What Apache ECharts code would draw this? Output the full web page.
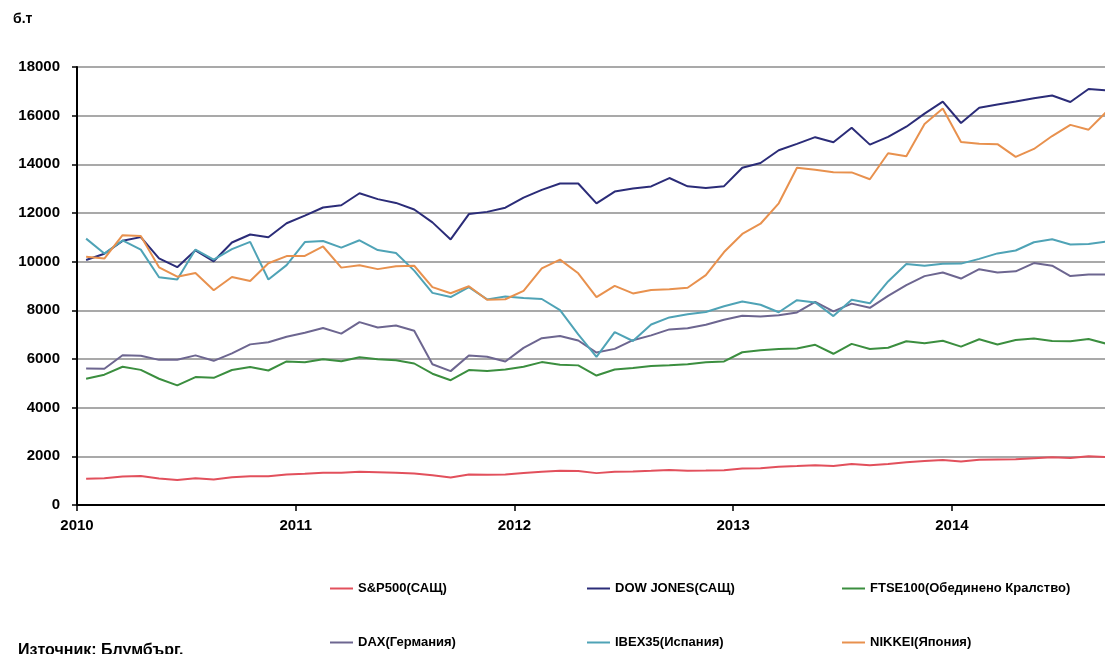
<!DOCTYPE html>
<html>
<head>
<meta charset="utf-8">
<script src="https://cdn.jsdelivr.net/npm/echarts@6/dist/echarts.min.js"></script>
<style>
html,body{margin:0;padding:0;background:#fff;}
#chart{width:1105px;height:654px;}
</style>
</head>
<body>
<div id="chart"></div>
<script>
// Monthly values, Jan 2010 .. Sep 2014
var startYear = 2010;
var seriesNames = ['S&P500(САЩ)', 'DOW JONES(САЩ)', 'FTSE100(Обединено Кралство)', 'DAX(Германия)', 'IBEX35(Испания)', 'NIKKEI(Япония)'];
var sp500 = [1074,1104,1169,1187,1089,1031,1102,1049,1141,1183,1181,1258,
             1286,1327,1326,1364,1345,1321,1292,1219,1131,1253,1247,1258,
             1312,1366,1408,1398,1310,1362,1379,1407,1441,1412,1416,1426,
             1498,1515,1569,1598,1631,1606,1686,1633,1682,1757,1806,1848,
             1783,1859,1872,1884,1924,1960,1931,2003,1972];
var dowJones = [10067,10325,10857,11009,10137,9774,10466,10015,10788,11118,11006,11578,
                11892,12226,12320,12811,12570,12414,12143,11614,10913,11955,12046,12218,
                12633,12952,13212,13214,12393,12880,13009,13091,13437,13096,13026,13104,
                13861,14054,14579,14840,15116,14910,15500,14810,15130,15546,16086,16577,
                15699,16322,16458,16581,16717,16827,16563,17098,17043];
var ftse100 = [5189,5355,5680,5553,5188,4917,5258,5225,5549,5675,5528,5900,
               5863,5994,5909,6070,5990,5946,5815,5395,5128,5544,5505,5572,
               5682,5872,5768,5738,5321,5571,5635,5711,5742,5783,5867,5898,
               6277,6361,6412,6430,6583,6215,6621,6413,6462,6731,6651,6749,
               6510,6810,6598,6780,6845,6744,6730,6820,6623];
var dax = [5608,5598,6154,6136,5965,5966,6148,5925,6229,6601,6688,6914,
           7077,7273,7041,7514,7294,7376,7159,5785,5502,6141,6089,5898,
           6458,6856,6947,6761,6264,6416,6772,6970,7216,7260,7406,7612,
           7776,7742,7795,7914,8349,7959,8276,8104,8594,9033,9406,9552,
           9306,9692,9556,9603,9943,9833,9407,9470,9474];
var ibex35 = [10947,10333,10871,10493,9359,9263,10499,10088,10514,10812,9267,9859,
              10806,10850,10576,10879,10477,10359,9631,8718,8547,8955,8450,8566,
              8510,8466,8009,7011,6090,7102,6739,7420,7708,7843,7934,8168,
              8362,8230,7920,8419,8320,7763,8434,8290,9186,9907,9837,9917,
              9920,10114,10340,10459,10798,10923,10708,10729,10826];
var nikkei = [10198,10126,11089,11057,9768,9383,9537,8824,9369,9202,9937,10229,
              10238,10624,9755,9850,9694,9816,9833,8955,8700,8988,8435,8455,
              8803,9723,10084,9521,8543,9007,8695,8840,8870,8928,9446,10395,
              11139,11559,12398,13861,13775,13677,13668,13389,14456,14328,15662,16291,
              14915,14841,14828,14304,14632,15162,15621,15425,16174];
var yTicks = [0,2000,4000,6000,8000,10000,12000,14000,16000,18000];

var allValues = [sp500, dowJones, ftse100, dax, ibex35, nikkei];
var colors = ['#e2505c', '#2b2c78', '#3b8e3f', '#6d6690', '#4fa3b6', '#e8914e'];
var FONT = 'Liberation Sans, Arial, sans-serif';

function toPoints(arr) {
  return arr.map(function (v, i) { return [i + 0.5, v]; });
}

var series = seriesNames.map(function (n, k) {
  return {
    name: n, type: 'line', symbol: 'none', data: toPoints(allValues[k]),
    lineStyle: { color: colors[k], width: 2 }, itemStyle: { color: colors[k] },
    clip: true
  };
});

var legendPos = [
  { left: 330, top: 582 }, { left: 587, top: 582 }, { left: 842, top: 582 },
  { left: 330, top: 636 }, { left: 587, top: 636 }, { left: 842, top: 636 }
];
var legends = seriesNames.map(function (n, k) {
  return {
    data: [n], left: legendPos[k].left, top: legendPos[k].top,
    icon: 'rect', itemWidth: 23, itemHeight: 2, itemGap: 5, padding: 0,
    textStyle: { fontFamily: FONT, fontWeight: 'bold', fontSize: 13, color: '#000' }
  };
});

var chart = echarts.init(document.getElementById('chart'));
chart.setOption({
  animation: false,
  backgroundColor: '#fff',
  grid: { left: 77, right: 0, top: 67, bottom: 149, containLabel: false },
  legend: legends,
  xAxis: {
    type: 'value', min: 0, max: 56.4, interval: 12,
    axisLine: { show: true, lineStyle: { color: '#000', width: 2 } },
    axisTick: { show: true, length: 6, lineStyle: { color: '#000', width: 1.5 } },
    splitLine: { show: false },
    axisLabel: {
      margin: 13, color: '#000', fontFamily: FONT, fontWeight: 'bold', fontSize: 15,
      showMaxLabel: false,
      formatter: function (v) { return (v % 12 === 0) ? String(startYear + v / 12) : ''; }
    }
  },
  yAxis: {
    type: 'value', min: yTicks[0], max: yTicks[yTicks.length - 1], interval: 2000,
    axisLine: { show: true, lineStyle: { color: '#000', width: 2 } },
    axisTick: { show: true, length: 5, lineStyle: { color: '#000', width: 1.5 } },
    splitLine: { show: true, lineStyle: { color: '#8c8c8c', width: 1.5 } },
    axisLabel: {
      margin: 17, color: '#000', fontFamily: FONT, fontWeight: 'bold', fontSize: 15,
      formatter: function (v) { return String(v); }
    }
  },
  graphic: [
    { type: 'text', left: 13, top: 12, style: { text: 'б.т', fill: '#000', font: 'bold 14px ' + FONT } },
    { type: 'text', left: 18, top: 643, style: { text: 'Източник: Блумбърг.', fill: '#000', font: 'bold 16px ' + FONT } }
  ],
  series: series
});
</script>
</body>
</html>
